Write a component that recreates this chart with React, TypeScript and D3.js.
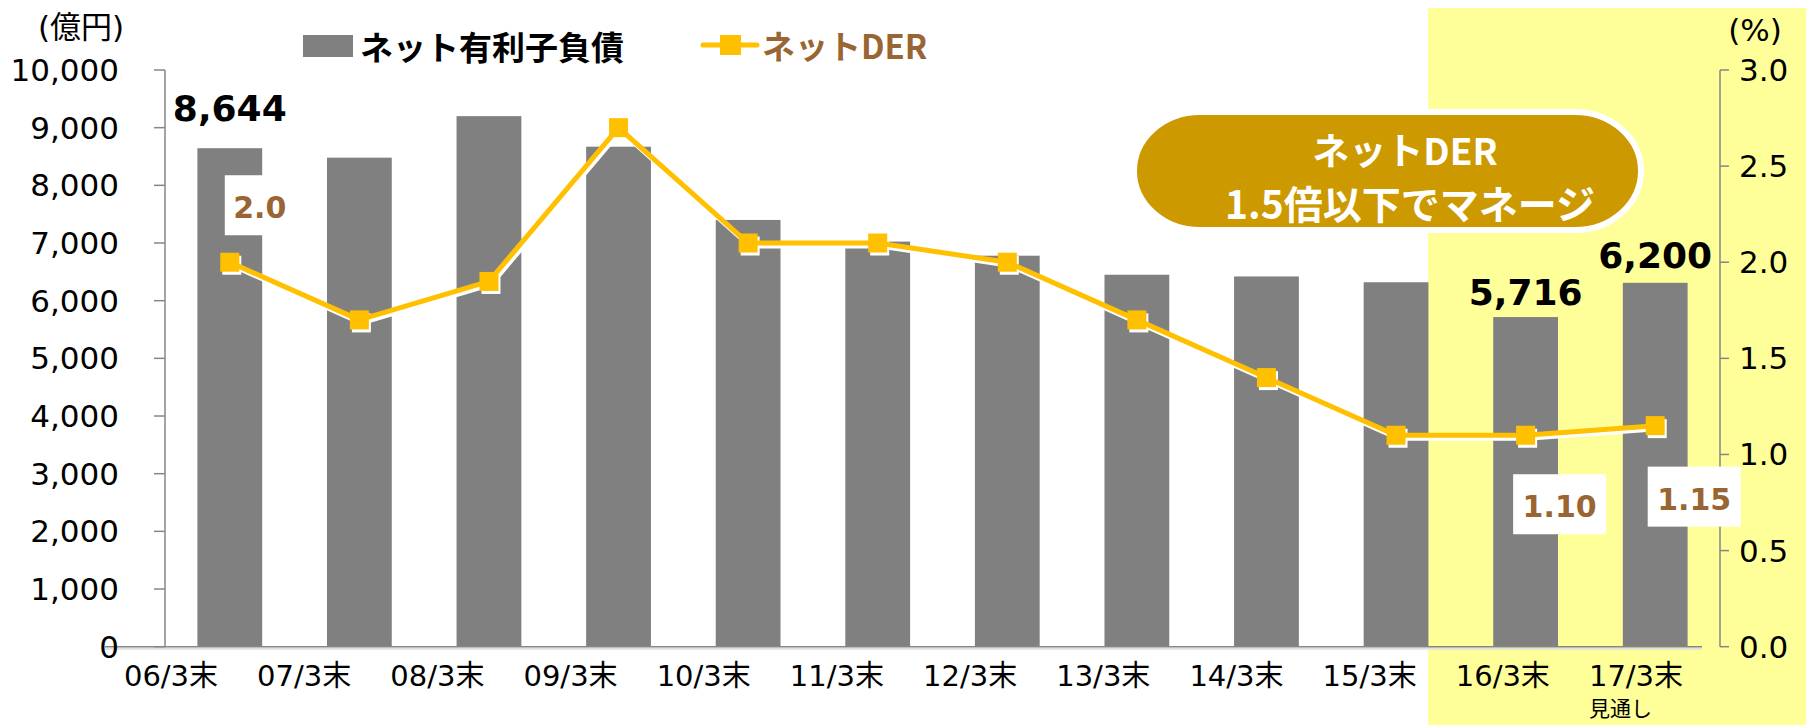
import React from 'react';
import * as d3 from 'd3';

const categories = ['06/3末', '07/3末', '08/3末', '09/3末', '10/3末', '11/3末', '12/3末', '13/3末', '14/3末', '15/3末', '16/3末', '17/3末'];
const subLabels = ['', '', '', '', '', '', '', '', '', '', '', '見通し'];
const netDebt = [8644, 8480, 9200, 8670, 7400, 7025, 6780, 6450, 6420, 6320, 5716, 6310];
const netDER = [2.0, 1.7, 1.9, 2.7, 2.1, 2.1, 2.0, 1.7, 1.4, 1.1, 1.1, 1.15];
const debtLabelIdx = [0, 10, 11];
const debtLabelText = ['8,644', '5,716', '6,200'];
const derLabelIdx = [0, 10, 11];
const derLabelText = ['2.0', '1.10', '1.15'];
const leftTicks = [0, 1000, 2000, 3000, 4000, 5000, 6000, 7000, 8000, 9000, 10000];
const rightTicks = [0, 0.5, 1.0, 1.5, 2.0, 2.5, 3.0];
const legendBar = 'ネット有利子負債';
const legendLine = 'ネットDER';
const calloutLines = ['ネットDER', '1.5倍以下でマネージ'];

// layout (not data)
const debtLabelDy = [-27, -12, -15];
const derLabelOffset = [[30, -57], [34, 69], [39, 71]];

const W = 1806, H = 725;
const X0 = 165, X1 = 1720, YTOP = 70, YBOT = 646.7;
const GRAY = '#808080';
const GOLD = '#FFC000';
const BROWN = '#996633';
const AXIS = '#868686';
const NUM_FONT = "'DejaVu Sans', Verdana, 'Noto Sans CJK JP', sans-serif";
const JP_FONT = "'Noto Sans CJK JP', 'Noto Sans', sans-serif";

export default function App() {
  const x = d3.scaleBand<number>().domain(d3.range(categories.length)).range([X0, X1]).paddingInner(0.5).paddingOuter(0.25);
  const xl = d3.scalePoint<number>().domain(d3.range(categories.length)).range([171, 1636]);
  const yL = d3.scaleLinear().domain([0, 10000]).range([YBOT, YTOP]);
  const yR = d3.scaleLinear().domain([0, 3]).range([YBOT, YTOP]);
  const cx = (i: number) => (x(i) as number) + x.bandwidth() / 2;
  const line = d3.line<number>().x((d, i) => cx(i)).y(d => yR(d));
  const path = line(netDER) || '';
  const ms = 19;

  return (
    <svg width={W} height={H} style={{ position: 'absolute', left: 0, top: 0, background: '#fff' }}>
      {/* highlight area */}
      <rect x={1428} y={8} width={W - 1428} height={H - 8} fill="#FFFF99" />

      {/* bars */}
      {netDebt.map((v, i) => (
        <rect key={i} x={x(i)} y={yL(v)} width={x.bandwidth()} height={YBOT - yL(v)} fill={GRAY} />
      ))}

      {/* axes */}
      <line x1={105} x2={1702} y1={YBOT + 2} y2={YBOT + 2} stroke="#e0e0e0" strokeWidth={2} />
      <line x1={105} x2={1702} y1={YBOT} y2={YBOT} stroke={AXIS} strokeWidth={1.5} />
      <line x1={X0} x2={X0} y1={YTOP} y2={YBOT} stroke={AXIS} strokeWidth={1.5} />
      {leftTicks.map(t => (
        <g key={t}>
          <line x1={X0 - 11} x2={X0} y1={yL(t)} y2={yL(t)} stroke={AXIS} strokeWidth={1.5} />
          <text x={119} y={yL(t)} textAnchor="end" dominantBaseline="central" fontFamily={NUM_FONT} fontSize={31} fill="#000">
            {d3.format(',')(t)}
          </text>
        </g>
      ))}
      <line x1={X1} x2={X1} y1={YTOP} y2={YBOT} stroke={AXIS} strokeWidth={1.5} />
      {rightTicks.map(t => (
        <g key={t}>
          <line x1={X1} x2={X1 + 9} y1={yR(t)} y2={yR(t)} stroke={AXIS} strokeWidth={1.5} />
          <text x={1739} y={yR(t)} textAnchor="start" dominantBaseline="central" fontFamily={NUM_FONT} fontSize={31} fill="#000">
            {t.toFixed(1)}
          </text>
        </g>
      ))}
      <text x={81} y={27} textAnchor="middle" dominantBaseline="central" fontFamily={NUM_FONT} fontSize={31} fill="#000">(億円)</text>
      <text x={1755} y={30} textAnchor="middle" dominantBaseline="central" fontFamily={NUM_FONT} fontSize={31} fill="#000">(%)</text>

      {/* x labels */}
      {categories.map((c, i) => (
        <g key={c}>
          <text x={xl(i)} y={676} textAnchor="middle" dominantBaseline="central" fontFamily={NUM_FONT} fontSize={29} fill="#000">{c}</text>
          {subLabels[i] && (
            <text x={(xl(i) as number) - 47} y={707} textAnchor="start" dominantBaseline="central" fontFamily={JP_FONT} fontSize={21} fill="#000">{subLabels[i]}</text>
          )}
        </g>
      ))}

      {/* DER line with shadow */}
      <g transform="translate(2,3)">
        <path d={path} fill="none" stroke="#fff" strokeWidth={5} strokeLinejoin="round" />
        {netDER.map((v, i) => (
          <rect key={i} x={cx(i) - ms / 2} y={yR(v) - ms / 2} width={ms} height={ms} fill="#fff" />
        ))}
      </g>
      <path d={path} fill="none" stroke={GOLD} strokeWidth={5} strokeLinejoin="round" />
      {netDER.map((v, i) => (
        <rect key={i} x={cx(i) - ms / 2} y={yR(v) - ms / 2} width={ms} height={ms} fill={GOLD} />
      ))}

      {/* bar value labels */}
      {debtLabelIdx.map((idx, k) => (
        <text key={k} x={cx(idx)} y={yL(netDebt[idx]) + debtLabelDy[k]} textAnchor="middle" fontFamily={NUM_FONT} fontWeight="bold" fontSize={36} fill="#000">
          {debtLabelText[k]}
        </text>
      ))}

      {/* DER labels */}
      {derLabelIdx.map((idx, k) => {
        const lx = cx(idx) + derLabelOffset[k][0];
        const ly = yR(netDER[idx]) + derLabelOffset[k][1];
        const bw = k === 0 ? 70 : 93;
        return (
          <g key={k}>
            <rect x={lx - bw / 2} y={ly - 30} width={bw} height={60} fill="#fff" />
            <text x={lx} y={ly + 13} textAnchor="middle" fontFamily={NUM_FONT} fontWeight="bold" fontSize={30} fill={BROWN}>
              {derLabelText[k]}
            </text>
          </g>
        );
      })}

      {/* callout */}
      <rect x={1134} y={112} width={507} height={118} rx={66} ry={59} fill="#CC9900" stroke="#fff" strokeWidth={6} />
      <text x={1405} y={149} textAnchor="middle" dominantBaseline="central" fontFamily={JP_FONT} fontWeight="bold" fontSize={37} fill="#fff">{calloutLines[0]}</text>
      <text x={1410} y={202} textAnchor="middle" dominantBaseline="central" fontFamily={JP_FONT} fontWeight="bold" fontSize={39} fill="#fff">{calloutLines[1]}</text>

      {/* legend */}
      <rect x={303} y={35} width={50} height={22} fill={GRAY} />
      <text x={360} y={46} dominantBaseline="central" fontFamily={JP_FONT} fontWeight="bold" fontSize={33} fill="#000">{legendBar}</text>
      <line x1={703} x2={757} y1={45} y2={45} stroke={GOLD} strokeWidth={5} strokeLinecap="round" />
      <rect x={720} y={35} width={21} height={20} fill={GOLD} />
      <text x={762} y={45} dominantBaseline="central" fontFamily={JP_FONT} fontWeight="bold" fontSize={33} fill={BROWN}>{legendLine}</text>
    </svg>
  );
}
